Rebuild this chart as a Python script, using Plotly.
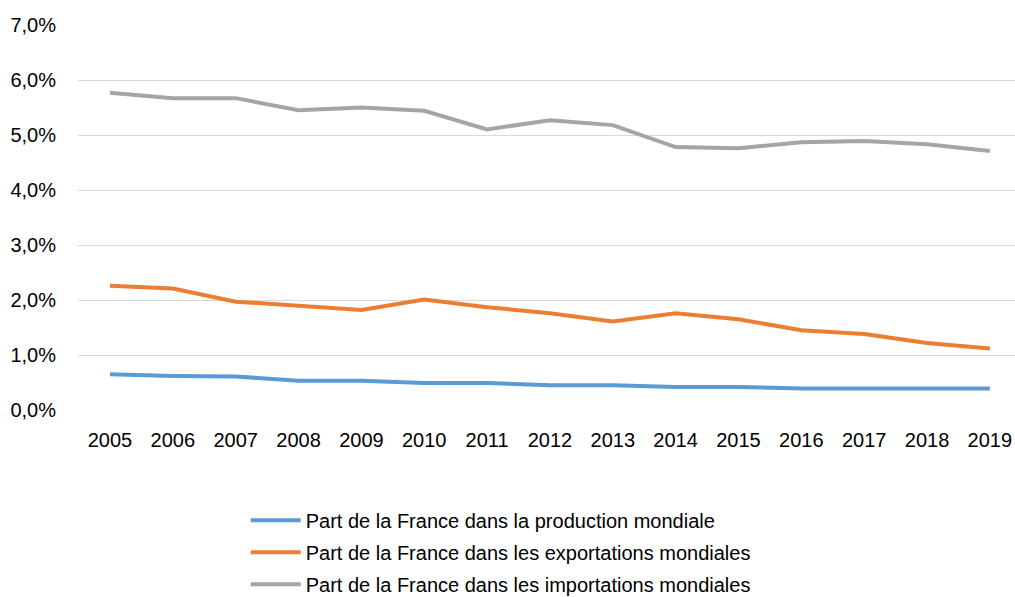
import plotly.graph_objects as go

years = [str(y) for y in range(2005, 2020)]
production = [0.65, 0.62, 0.61, 0.53, 0.53, 0.49, 0.49, 0.45, 0.45, 0.42, 0.42, 0.39, 0.39, 0.39, 0.39]
exportations = [2.26, 2.21, 1.97, 1.90, 1.82, 2.01, 1.87, 1.76, 1.61, 1.76, 1.65, 1.45, 1.38, 1.22, 1.12]
importations = [5.77, 5.67, 5.67, 5.45, 5.50, 5.44, 5.10, 5.27, 5.18, 4.78, 4.76, 4.87, 4.89, 4.83, 4.71]

names = [
    "Part de la France dans la production mondiale",
    "Part de la France dans les exportations mondiales",
    "Part de la France dans les importations mondiales",
]
colors = ["#5B9BD5", "#ED7D31", "#A5A5A5"]
series = [production, exportations, importations]

fig = go.Figure()
for i, (name, vals, col) in enumerate(zip(names, series, colors)):
    fig.add_trace(go.Scatter(
        x=years, y=vals, name=name, mode="lines",
        line=dict(color=col, width=4),
        legendgroup=f"g{i}",
    ))

font = "Liberation Sans, Arial, sans-serif"
fig.update_layout(
    width=1015, height=597,
    margin=dict(l=78, r=0, t=25, b=187, autoexpand=False),
    paper_bgcolor="white", plot_bgcolor="white",
    separators=", ",
    font=dict(family=font, size=20, color="black"),
    showlegend=True,
    legend=dict(
        orientation="v", x=0.179, xanchor="left", y=-0.236, yanchor="top",
        font=dict(size=20, color="black"), tracegroupgap=3,
        itemwidth=50, bgcolor="rgba(0,0,0,0)",
    ),
    xaxis=dict(
        type="category", range=[-0.509, 14.4], showgrid=False,
        showline=False, ticks="", tickfont=dict(size=20),
        ticklabelstandoff=16,
    ),
    yaxis=dict(
        range=[0, 7], dtick=1, tickformat=".1f", ticksuffix="%",
        showgrid=True, gridcolor="#D9D9D9", gridwidth=1,
        zeroline=False, showline=False, ticks="", tickfont=dict(size=20),
        ticklabelstandoff=21,
    ),
)

fig.write_html(
    "out.html",
    config={"displayModeBar": False},
    post_script="document.body.style.margin='0';document.body.style.overflow='hidden';",
)
